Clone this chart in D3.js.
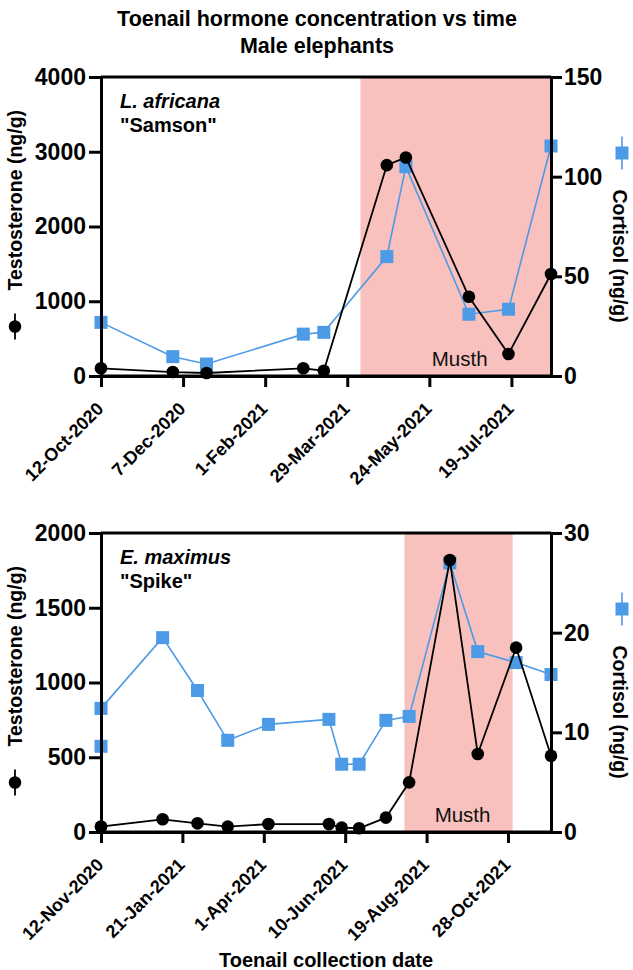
<!DOCTYPE html>
<html><head><meta charset="utf-8">
<script src="https://cdn.jsdelivr.net/npm/d3@7"></script>
<style>
body{margin:0;background:#fff}
svg{display:block}
text{font-family:"Liberation Sans",Arial,Helvetica,sans-serif}
</style>
</head><body>
<svg id="chart" width="633" height="970"></svg>
<script>
// ---------------- DATA ----------------
const titleLines = ["Toenail hormone concentration vs time", "Male elephants"];
const xAxisTitle = "Toenail collection date";

// Panel A: L. africana "Samson"
const samsonDates = ["2020-10-12","2020-11-30","2020-12-23","2021-02-27","2021-03-13","2021-04-25","2021-05-08","2021-06-20","2021-07-17","2021-08-15"];
const samsonTestosterone = [103, 53, 40, 103, 70, 2821, 2924, 1060, 294, 1364];
const samsonCortisol = [26.9, 9.7, 6.0, 21.0, 21.9, 59.9, 105, 31, 33.5, 115.4];
const samsonTicks = ["2020-10-12","2020-12-07","2021-02-01","2021-03-29","2021-05-24","2021-07-19"];
const samsonMusth = ["2021-04-07","2021-08-15"];
const samsonTestoTicks = [0, 1000, 2000, 3000, 4000];
const samsonCortTicks = [0, 50, 100, 150];

// Panel B: E. maximus "Spike"
const spikeDates = ["2020-11-12","2020-11-12","2021-01-04","2021-02-03","2021-03-01","2021-04-05","2021-05-27","2021-06-07","2021-06-22","2021-07-15","2021-08-04","2021-09-08","2021-10-02","2021-11-04","2021-12-04"];
const spikeTestosterone = [35, 36, 85, 58, 36, 53, 53, 29, 25, 96, 332, 1819, 522, 1233, 510];
const spikeCortisol = [8.6, 12.4, 19.5, 14.2, 9.2, 10.8, 11.3, 6.8, 6.8, 11.2, 11.6, 27, 18.1, 17, 15.8];
const spikeTicks = ["2020-11-12","2021-01-21","2021-04-01","2021-06-10","2021-08-19","2021-10-28"];
const spikeMusth = ["2021-07-31","2021-11-01"];
const spikeTestoTicks = [0, 500, 1000, 1500, 2000];
const spikeCortTicks = [0, 10, 20, 30];

// ---------------- STYLE ----------------
const BLUE = "#4d9ae6";
const PINK = "#f9c1be";
const parse = d3.utcParse("%Y-%m-%d");
const fmt = d3.utcFormat("%-d-%b-%Y");

const svg = d3.select("#chart");
const left = 101, right = 551;

// Title
svg.append("text").attr("x", 317).attr("y", 26).attr("text-anchor","middle")
  .attr("font-size", 21.5).attr("font-weight","bold").text(titleLines[0]);
svg.append("text").attr("x", 317).attr("y", 53).attr("text-anchor","middle")
  .attr("font-size", 21.5).attr("font-weight","bold").text(titleLines[1]);

function panel(cfg){
  const dates = cfg.dates.map(parse);
  const x = d3.scaleUtc().domain(d3.extent(dates)).range([left, right]);
  const yT = d3.scaleLinear().domain([0, d3.max(cfg.tTicks)]).range([cfg.bot, cfg.top]);
  const yC = d3.scaleLinear().domain([0, d3.max(cfg.cTicks)]).range([cfg.bot, cfg.top]);
  const g = svg.append("g");

  // musth band
  const m0 = x(parse(cfg.musth[0])), m1 = x(parse(cfg.musth[1]));
  g.append("rect").attr("x", m0).attr("y", cfg.top).attr("width", m1 - m0)
    .attr("height", cfg.bot - cfg.top).attr("fill", PINK);
  g.append("text").attr("x", (m0 + m1)/2 + 4).attr("y", cfg.bot - 10)
    .attr("text-anchor","middle").attr("font-size", 20.5).attr("fill","#111").text("Musth");

  // cortisol series
  const cData = dates.map((d,i)=>({d, v: cfg.cort[i]}));
  g.append("path").datum(cData).attr("fill","none").attr("stroke", BLUE).attr("stroke-width", 1.6)
    .attr("d", d3.line().x(p=>x(p.d)).y(p=>yC(p.v)));
  g.selectAll(".sq").data(cData).join("rect")
    .attr("x", p=>x(p.d)-6.5).attr("y", p=>yC(p.v)-6.5).attr("width", 13).attr("height", 13)
    .attr("fill", BLUE);

  // testosterone series
  const tData = dates.map((d,i)=>({d, v: cfg.testo[i]}));
  g.append("path").datum(tData).attr("fill","none").attr("stroke","#000").attr("stroke-width", 1.8)
    .attr("d", d3.line().x(p=>x(p.d)).y(p=>yT(p.v)));
  g.selectAll(".ci").data(tData).join("circle")
    .attr("cx", p=>x(p.d)).attr("cy", p=>yT(p.v)).attr("r", 6.3).attr("fill","#000");

  // frame top
  g.append("line").attr("x1", left).attr("x2", right).attr("y1", cfg.top).attr("y2", cfg.top)
    .attr("stroke","#000").attr("stroke-width", 3);

  // axes
  const ax = g.append("g").attr("transform", `translate(0,${cfg.bot})`)
    .call(d3.axisBottom(x).tickValues(cfg.ticks.map(parse)).tickFormat(fmt).tickSize(11).tickSizeOuter(0));
  ax.selectAll("text").attr("text-anchor","end").attr("dy", null).attr("y", null)
    .attr("transform","translate(3,34) rotate(-45)");

  const ay = g.append("g").attr("transform", `translate(${left},0)`)
    .call(d3.axisLeft(yT).tickValues(cfg.tTicks).tickFormat(d3.format("d")).tickSize(12).tickPadding(3).tickSizeOuter(0));
  const ar = g.append("g").attr("transform", `translate(${right},0)`)
    .call(d3.axisRight(yC).tickValues(cfg.cTicks).tickFormat(d3.format("d")).tickSize(11).tickPadding(2).tickSizeOuter(0));

  [ax, ay, ar].forEach(a=>{
    a.selectAll("path.domain").attr("stroke","#000").attr("stroke-width", 3);
    a.selectAll(".tick line").attr("stroke","#000").attr("stroke-width", 3);
    a.selectAll("text").attr("fill","#000").attr("font-weight","bold")
      .attr("font-family",'"Liberation Sans",Arial,sans-serif');
  });
  ax.selectAll("text").attr("font-size", 18);
  ay.selectAll("text").attr("font-size", 23);
  ar.selectAll("text").attr("font-size", 23);
  // extend bottom axis line across the axis widths
  g.append("line").attr("x1", left - 1.5).attr("x2", right + 1.5).attr("y1", cfg.bot).attr("y2", cfg.bot)
    .attr("stroke","#000").attr("stroke-width", 3);

  // species label
  g.append("text").attr("x", 120).attr("y", cfg.top + 31).attr("font-size", 20)
    .attr("font-weight","bold").attr("font-style","italic").text(cfg.species);
  g.append("text").attr("x", 120).attr("y", cfg.top + 55).attr("font-size", 20)
    .attr("font-weight","bold").text(cfg.name);

  // left axis title with legend symbol
  const yc = (cfg.top + cfg.bot)/2;
  const lt = g.append("g").attr("transform", `translate(0,${yc}) rotate(-90)`);
  lt.append("line").attr("x1", -113).attr("x2", -87).attr("y1", 15).attr("y2", 15).attr("stroke","#000").attr("stroke-width",1.8);
  lt.append("circle").attr("cx", -100).attr("cy", 15).attr("r", 6.3).attr("fill","#000");
  lt.append("text").attr("x", -64).attr("y", 22).attr("font-size", 19.5).attr("font-weight","bold")
    .text("Testosterone (ng/g)");

  // right axis title with legend symbol
  const rt = g.append("g").attr("transform", `translate(613,${yc}) rotate(90)`);
  rt.append("line").attr("x1", -90).attr("x2", -57).attr("y1", -9).attr("y2", -9).attr("stroke", BLUE).attr("stroke-width",1.6);
  rt.append("rect").attr("x", -73.5-6.5).attr("y", -9-6.5).attr("width",13).attr("height",13).attr("fill", BLUE);
  rt.append("text").attr("x", -37).attr("y", 0).attr("font-size", 19.5).attr("font-weight","bold")
    .text("Cortisol (ng/g)");
}

panel({dates: samsonDates, testo: samsonTestosterone, cort: samsonCortisol, ticks: samsonTicks,
  musth: samsonMusth, tTicks: samsonTestoTicks, cTicks: samsonCortTicks, top: 77, bot: 376,
  species: "L. africana", name: "\"Samson\""});
panel({dates: spikeDates, testo: spikeTestosterone, cort: spikeCortisol, ticks: spikeTicks,
  musth: spikeMusth, tTicks: spikeTestoTicks, cTicks: spikeCortTicks, top: 533, bot: 832,
  species: "E. maximus", name: "\"Spike\""});

svg.append("text").attr("x", 326).attr("y", 967).attr("text-anchor","middle")
  .attr("font-size", 20).attr("font-weight","bold").text(xAxisTitle);
</script>
</body></html>
